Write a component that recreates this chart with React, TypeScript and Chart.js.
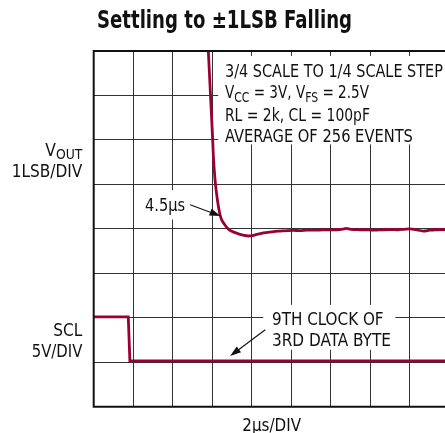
import React, { useEffect, useRef } from "react";
import { Chart, registerables } from "chart.js";

Chart.register(...registerables);

// ---- data (time in divisions of 2µs, amplitude in divisions) ----
const voutX = [2.867, 2.955, 3.01, 3.03, 3.07, 3.11, 3.15, 3.2, 3.25, 3.31, 3.38, 3.46, 3.56, 3.68, 3.8, 3.9, 4.0, 4.1, 4.25, 4.4, 4.55, 4.72, 4.9, 5.05, 5.22, 5.4, 5.6, 5.8, 5.98, 6.15, 6.3, 6.39, 6.5, 6.74, 6.95, 7.12, 7.3, 7.5, 7.7, 7.85, 8.01, 8.15, 8.34, 8.5, 8.64, 8.89, 9.1, 9.4, 9.7, 10.0];
const voutY = [8.6, 7.0, 6.0, 5.6, 5.1, 4.78, 4.53, 4.3, 4.18, 4.1, 4.02, 3.96, 3.92, 3.88, 3.855, 3.84, 3.845, 3.87, 3.9, 3.92, 3.94, 3.95, 3.96, 3.965, 3.96, 3.97, 3.97, 3.975, 3.975, 3.98, 3.995, 4.01, 3.99, 3.98, 3.975, 3.97, 3.98, 3.985, 3.98, 3.99, 4.0, 3.98, 3.95, 3.97, 3.98, 3.985, 3.98, 3.985, 3.98, 3.98];
const sclX = [0, 0.875, 0.915, 10];
const sclY = [2.02, 2.02, 1.03, 1.03];

const X_DIVS = 10;
const Y_DIVS = 8;

const TITLE = "Settling to ±1LSB Falling";
const X_LABEL = "2µs/DIV";
const VOUT_LABEL = "1LSB/DIV";
const SCL_LABELS = ["SCL", "5V/DIV"];
const NOTE_LINES = [
  [{ t: "3/4 SCALE TO 1/4 SCALE STEP" }],
  [{ t: "V" }, { t: "CC", sub: true }, { t: " = 3V, V" }, { t: "FS", sub: true }, { t: " = 2.5V" }],
  [{ t: "RL = 2k, CL = 100pF" }],
  [{ t: "AVERAGE OF 256 EVENTS" }],
];
const NOTE_WIDTHS = [218, 144, 145, 188];
const CLOCK_LINES = ["9TH CLOCK OF", "3RD DATA BYTE"];
const SETTLE_LABEL = "4.5µs";

const TRACE = "#9a0036";
const FONT = "'Liberation Sans Narrow', 'DejaVu Sans Condensed', 'Liberation Sans', Arial, sans-serif";

type Seg = { t: string; sub?: boolean };

function drawRich(
  ctx: CanvasRenderingContext2D,
  segs: Seg[],
  x: number,
  baseline: number,
  size: number,
  weight: string,
  targetW: number,
  align: "left" | "right" | "center" = "left"
) {
  ctx.save();
  let w = 0;
  const widths: number[] = [];
  for (const s of segs) {
    ctx.font = `${weight} ${s.sub ? size * 0.8 : size}px ${FONT}`;
    const m = ctx.measureText(s.t).width;
    widths.push(m);
    w += m;
  }
  const sc = targetW ? targetW / w : 1;
  const start = align === "right" ? x - w * sc : align === "center" ? x - (w * sc) / 2 : x;
  ctx.translate(start, baseline);
  ctx.scale(sc, 1);
  ctx.fillStyle = "#111";
  ctx.textBaseline = "alphabetic";
  ctx.textAlign = "left";
  let cx = 0;
  segs.forEach((s, i) => {
    ctx.font = `${weight} ${s.sub ? size * 0.8 : size}px ${FONT}`;
    ctx.fillText(s.t, cx, s.sub ? 3.5 : 0);
    cx += widths[i];
  });
  ctx.restore();
}

function arrow(ctx: CanvasRenderingContext2D, x1: number, y1: number, x2: number, y2: number) {
  const ang = Math.atan2(y2 - y1, x2 - x1);
  const len = 11;
  const half = 3.6;
  const bx = x2 - len * Math.cos(ang);
  const by = y2 - len * Math.sin(ang);
  ctx.save();
  ctx.strokeStyle = "#111";
  ctx.fillStyle = "#111";
  ctx.lineWidth = 1.1;
  ctx.beginPath();
  ctx.moveTo(x1, y1);
  ctx.lineTo(bx, by);
  ctx.stroke();
  ctx.beginPath();
  ctx.moveTo(x2, y2);
  ctx.lineTo(bx + half * Math.sin(ang), by - half * Math.cos(ang));
  ctx.lineTo(bx - half * Math.sin(ang), by + half * Math.cos(ang));
  ctx.closePath();
  ctx.fill();
  ctx.restore();
}

const decor = {
  id: "decor",
  beforeDatasetsDraw(chart: any) {
    const ctx = chart.ctx as CanvasRenderingContext2D;
    const xs = chart.scales.x;
    const ys = chart.scales.y;
    const box = (x0: number, x1: number, y0: number, y1: number) => {
      const px0 = xs.getPixelForValue(x0);
      const px1 = xs.getPixelForValue(x1);
      const py0 = ys.getPixelForValue(y0);
      const py1 = ys.getPixelForValue(y1);
      ctx.fillStyle = "#fff";
      ctx.fillRect(px0, py0, px1 - px0, py1 - py0);
    };
    ctx.save();
    box(3.15, 11, 7.89, 5.9);
    box(1.17, 2.41, 4.87, 4.21);
    box(4.29, 7.63, 2.29, 1.28);
    ctx.restore();
  },
  afterDraw(chart: any) {
    const ctx = chart.ctx as CanvasRenderingContext2D;
    const xs = chart.scales.x;
    const ys = chart.scales.y;
    const a = chart.chartArea;
    const X = (v: number) => xs.getPixelForValue(v);
    const Y = (v: number) => ys.getPixelForValue(v);

    // frame
    ctx.save();
    ctx.strokeStyle = "#111";
    ctx.lineWidth = 2;
    ctx.beginPath();
    ctx.moveTo(a.right + 5, a.top);
    ctx.lineTo(a.left, a.top);
    ctx.lineTo(a.left, a.bottom);
    ctx.lineTo(a.right + 5, a.bottom);
    ctx.stroke();
    ctx.restore();

    // title and axis labels
    drawRich(ctx, [{ t: TITLE }], 97, 28.3, 24, "bold", 255);
    drawRich(ctx, [{ t: "V" }, { t: "OUT", sub: true }], 82.3, 155.5, 17, "normal", 37, "right");
    drawRich(ctx, [{ t: VOUT_LABEL }], 82.3, 176.6, 17, "normal", 70.6, "right");
    drawRich(ctx, [{ t: SCL_LABELS[0] }], 82.3, 335.7, 17, "normal", 29, "right");
    drawRich(ctx, [{ t: SCL_LABELS[1] }], 82.3, 357.3, 17, "normal", 50.6, "right");
    drawRich(ctx, [{ t: X_LABEL }], 242.3, 431.3, 17, "normal", 58.7);

    // notes
    const noteBase = [76.7, 98.3, 121, 141.7];
    NOTE_LINES.forEach((segs, i) => drawRich(ctx, segs as Seg[], X(3.32), noteBase[i], 17, "normal", NOTE_WIDTHS[i]));
    drawRich(ctx, [{ t: SETTLE_LABEL }], X(1.3), 211, 17, "normal", 40);
    drawRich(ctx, [{ t: CLOCK_LINES[0] }], X(4.51), 325, 17, "normal", 111.6);
    drawRich(ctx, [{ t: CLOCK_LINES[1] }], X(4.51), 345.7, 17, "normal", 119);

    arrow(ctx, X(2.44), Y(4.54), X(3.21), Y(4.29));
    arrow(ctx, X(4.34), Y(1.73), X(3.45), Y(1.14));
  },
};

export default function App() {
  const ref = useRef<HTMLCanvasElement | null>(null);
  useEffect(() => {
    if (!ref.current) return;
    const chart = new Chart(ref.current, {
      type: "line",
      data: {
        datasets: [
          {
            data: voutX.map((x, i) => ({ x, y: voutY[i] })),
            borderColor: TRACE,
            borderWidth: 2.8,
            pointRadius: 0,
            tension: 0.3,
            fill: false,
          },
          {
            data: sclX.map((x, i) => ({ x, y: sclY[i] })),
            borderColor: TRACE,
            borderWidth: 2.8,
            pointRadius: 0,
            tension: 0,
            fill: false,
          },
        ],
      },
      options: {
        animation: false,
        responsive: false,
        maintainAspectRatio: false,
        layout: { padding: { left: 93.7, top: 51, right: 520 - 489, bottom: 433 - 406.7 } },
        plugins: { legend: { display: false }, tooltip: { enabled: false }, title: { display: false } },
        scales: {
          x: {
            type: "linear",
            min: 0,
            max: X_DIVS,
            ticks: { display: false, stepSize: 1 },
            grid: { color: "#333", lineWidth: 1, drawTicks: false },
            border: { display: false },
          },
          y: {
            type: "linear",
            min: 0,
            max: Y_DIVS,
            ticks: { display: false, stepSize: 1 },
            grid: { color: "#333", lineWidth: 1, drawTicks: false },
            border: { display: false },
          },
        },
      },
      plugins: [decor],
    });
    return () => chart.destroy();
  }, []);
  return (
    <div style={{ position: "fixed", left: 0, top: 0, width: 445, height: 433, overflow: "hidden", background: "#fff" }}>
      <canvas ref={ref} width={520} height={433} style={{ display: "block", width: 520, height: 433 }} />
    </div>
  );
}
